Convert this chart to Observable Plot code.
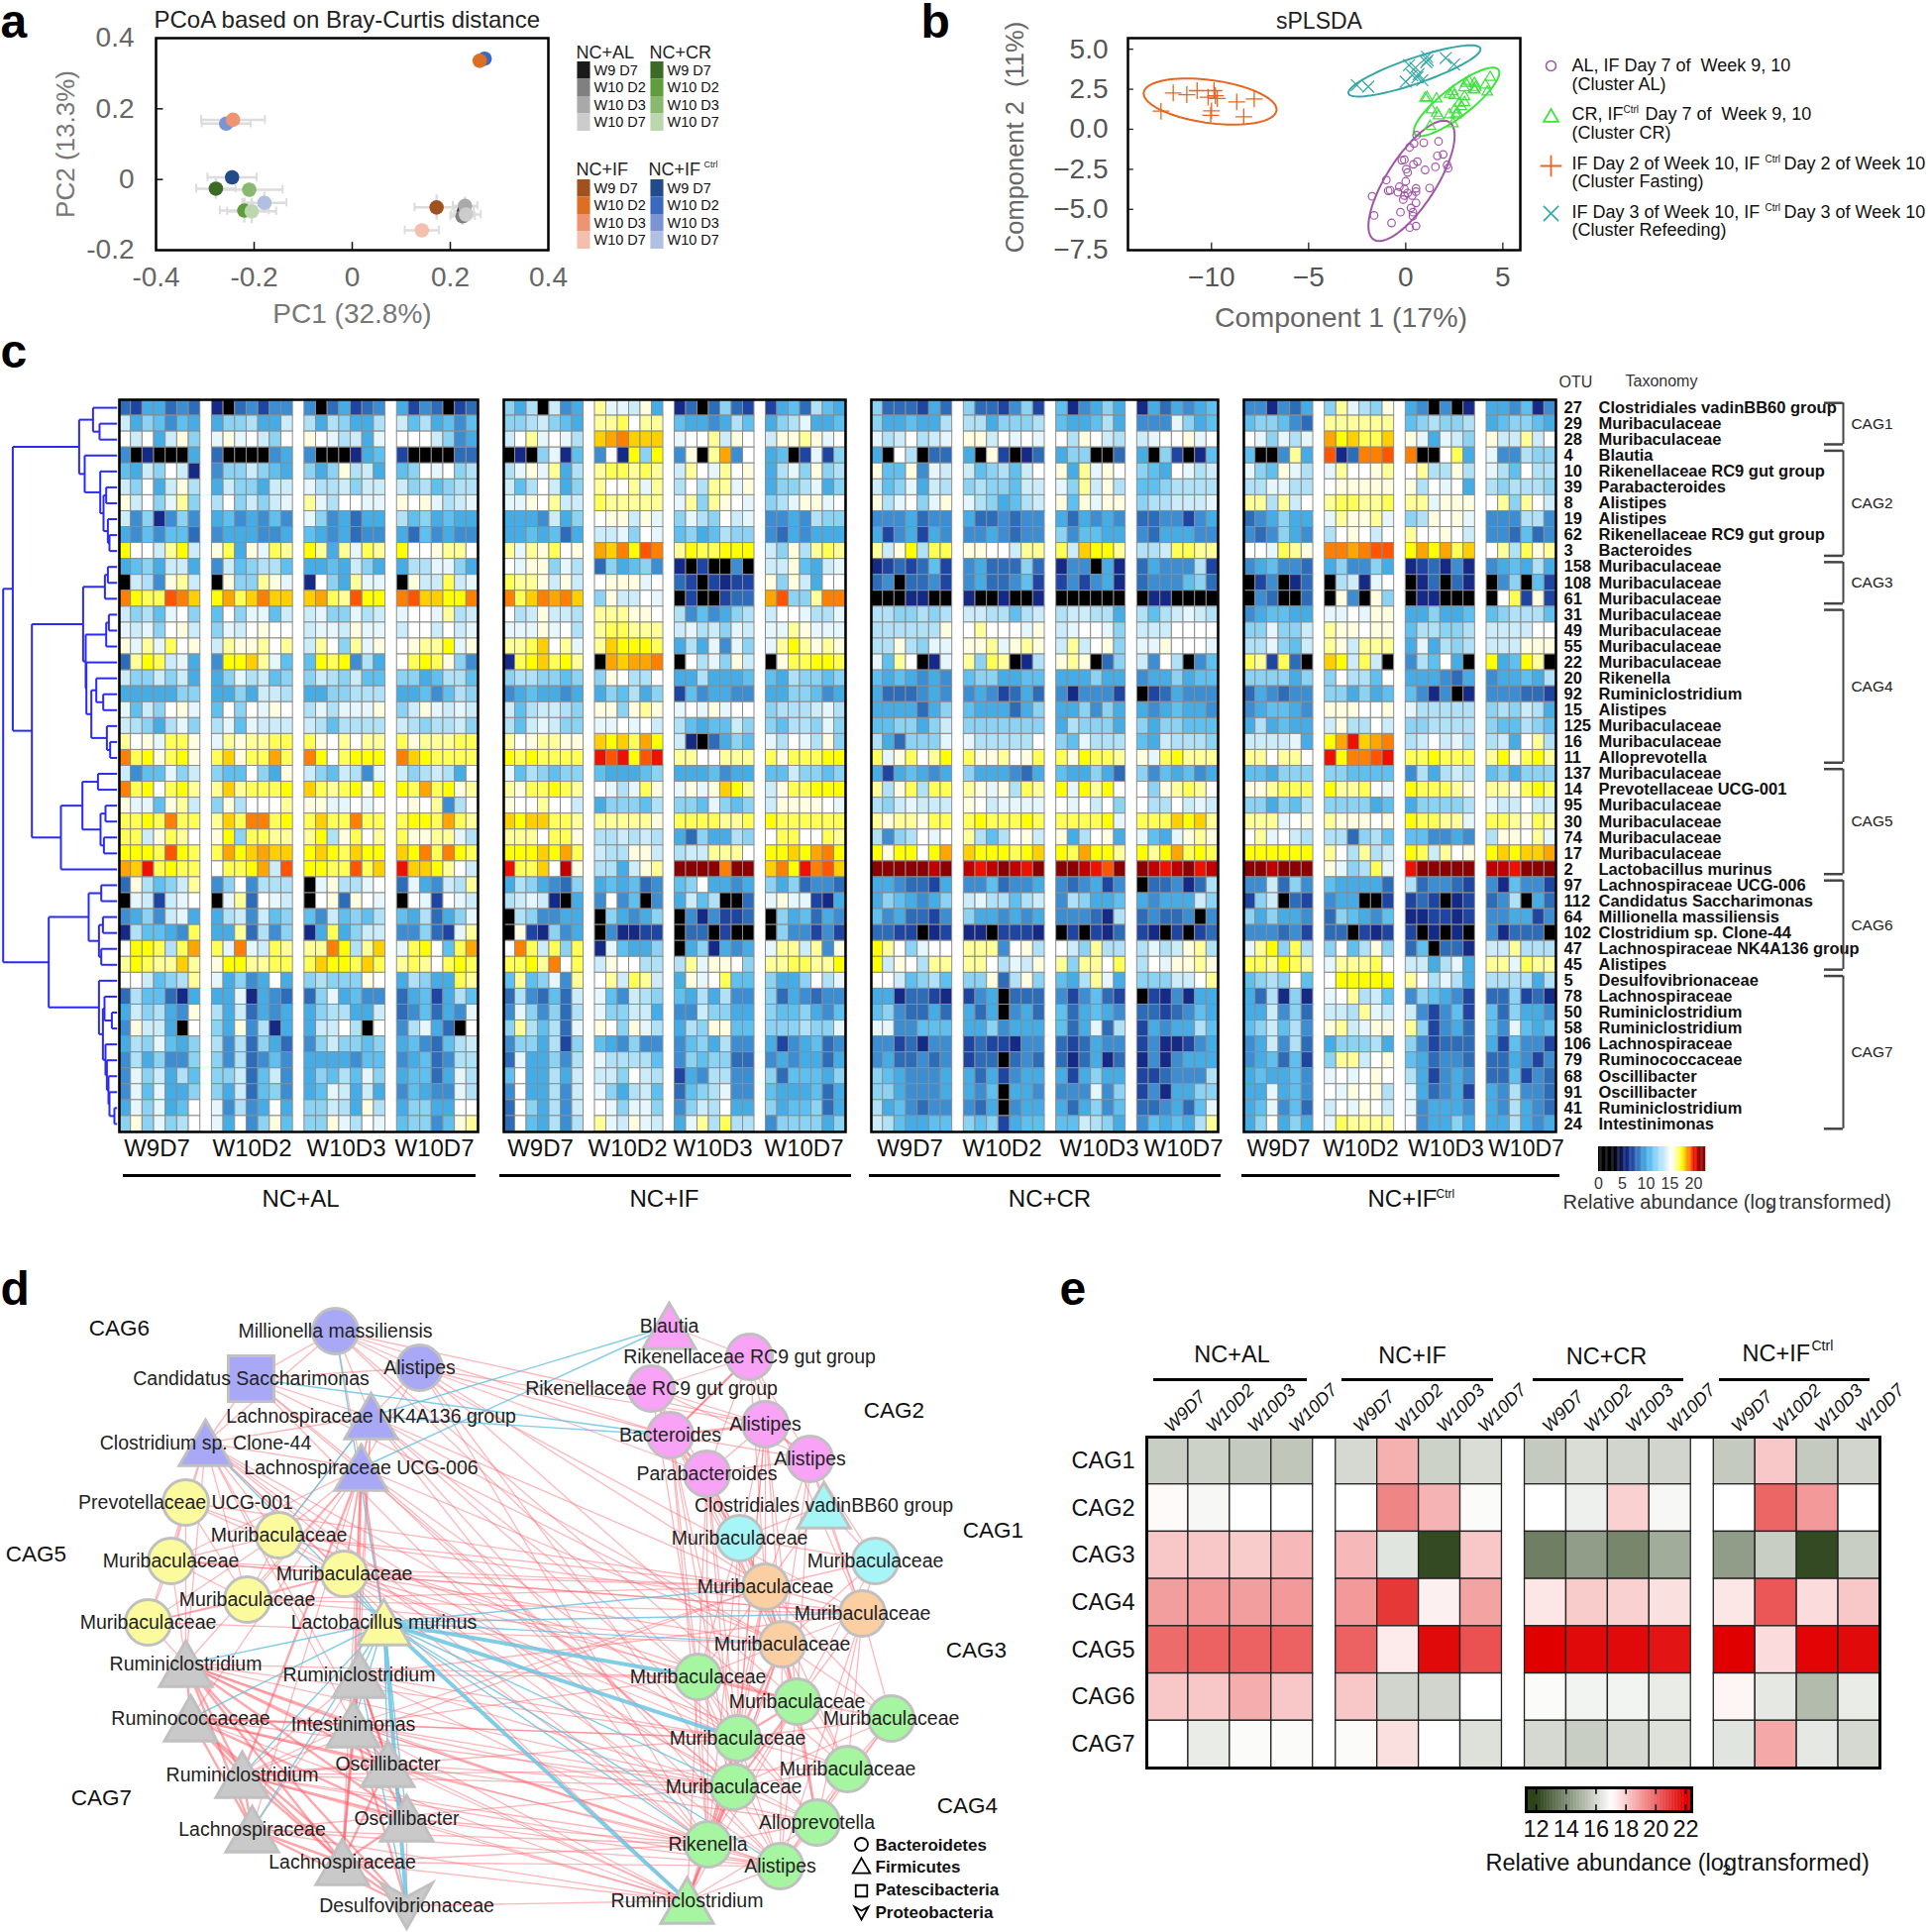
<!DOCTYPE html>
<html><head><meta charset="utf-8">
<style>html,body{margin:0;padding:0;background:#fff;overflow:hidden}#page{position:relative;width:1946px;height:1950px}svg{position:absolute;overflow:visible;background:transparent}</style>
<script src="https://cdn.jsdelivr.net/npm/d3@7"></script>
<script src="https://cdn.jsdelivr.net/npm/@observablehq/plot@0.6"></script>
</head><body><div id="page"></div>
<script>
// ---------- DATA ----------
const sampleNames=["W9 D7","W10 D2","W10 D3","W10 D7"];
const heatGroups=["W9D7","W10D2","W10D3","W10D7"];
const dietNames=["NC+AL","NC+IF","NC+CR","NC+IFCtrl"];
const colorsAL=["#1a1a1a","#808080","#a9a9a9","#cccccc"];
const colorsCR=["#3b6b25","#5e9c3c","#8ab870","#bcd6ae"];
const colorsIF=["#a0521e","#dd6e22","#ef9470","#f4c0ae"];
const colorsCt=["#234a8a","#3a69bd","#7a94d4","#b0bfe2"];
// panel a: PCoA
const pcoaId =["AL0","AL1","AL2","AL3","CR0","CR2","Ct3","CR1","CR3","IF0","IF3","Ct2","IF2","Ct0","Ct1","IF1"];
const pcoaX  =[.228,.225,.23,.232,-.278,-.21,-.179,-.22,-.205,.172,.142,-.257,-.243,-.245,.27,.26];
const pcoaY  =[-.09,-.104,-.075,-.099,-.026,-.029,-.066,-.088,-.09,-.079,-.144,.158,.169,.006,.342,.336];
const pcoaXe =[.02,.025,.025,.03,.04,.068,.045,.05,.05,.045,.035,.05,.065,.05,.006,.006];
const pcoaYe =[.02,.025,.025,.025,.03,.02,.03,.035,.035,.035,.012,.012,.015,.02,.015,.012];
const pcoaFill={AL:colorsAL,CR:colorsCR,IF:colorsIF,Ct:colorsCt};
// panel b: sPLSDA
const fastX=[-11.97,-11.27,-10.74,-10.17,-9.87,-9.8,-9.7,-8.7,-7.8,-12.6,-10,-10.04,-8.34];
const fastY=[2.27,2.16,2.41,2,2.41,2.1,1.92,1.71,1.89,1.13,1.15,.87,.78];
const refeedX=[-2.52,-1.93,0,.17,.5,.33,.66,.86,1.10,1.13,1.06,2.06,2.49,.6];
const refeedY=[2.76,2.66,2.97,4,3.84,3.38,3.44,3.07,4.52,4.31,4.19,4.45,4.04,3.24];
const crX=[4.35,3.26,3.1,3.54,3.0,3.6,4.1,4.2,3.56,3.5,2.43,2.26,2.5,3.03,1.1,1.59,1,2.76,3.03,1.33,1.6,1.69,2.26,2.59,2.52,2.43,1.26,2.86,2.66];
const crY=[3.24,3.0,2.87,2.87,2.6,2.62,2.76,2.33,2.45,2.49,2.35,2.19,2.1,2.04,1.98,1.9,1.94,1.63,1.67,1.22,1.01,.85,.91,.91,1.22,.35,.19,1.42,1.01];
const alX=[.56,.93,.43,1.69,.2,1.93,1.63,-.07,-.2,.6,.4,.03,1.53,2.13,2.19,1,.1,-1,0,-.33,-.8,-.9,-.07,.53,1.23,-.4,-.07,.33,.1,.53,-.13,.53,.27,-.27,.37,-1.63,-1.73,-.73,.2,.53,.37];
const alY=[-.37,-.84,-.89,-.76,-1.13,-1.57,-1.66,-1.9,-1.94,-2.02,-2.19,-2.49,-2.35,-2.23,-2.43,-2.54,-2.7,-3.17,-3.25,-3.59,-3.81,-3.84,-3.73,-3.69,-3.67,-3.94,-4.14,-4.14,-3.98,-3.9,-4.39,-4.6,-4.91,-5.18,-5.42,-5.38,-4.19,-5.85,-6.14,-6.04,-5.18];
const ellipseNames=["fasting","refeeding","cr","al"];
const ellipseCx=[-10.07,.45,2.62,.3], ellipseCy=[1.73,3.64,1.71,-3.22];
const ellipseAx=[3.42,3.4,2.2,2.22], ellipseAy=[1.44,1.6,2.14,3.76];
const ellipseCorr=[-.35,.85,.85,.75];
// panel c: OTU table
const otuIds=[27,29,28,4,10,39,8,19,62,3,158,108,61,31,49,55,22,20,92,15,125,16,11,137,14,95,30,74,17,2,97,112,64,102,47,45,5,78,50,58,106,79,68,91,41,24];
const otuTaxa=["Clostridiales vadinBB60 group","Muribaculaceae","Muribaculaceae","Blautia","Rikenellaceae RC9 gut group","Parabacteroides","Alistipes","Alistipes","Rikenellaceae RC9 gut group","Bacteroides","Muribaculaceae","Muribaculaceae","Muribaculaceae","Muribaculaceae","Muribaculaceae","Muribaculaceae","Muribaculaceae","Rikenella","Ruminiclostridium","Alistipes","Muribaculaceae","Muribaculaceae","Alloprevotella","Muribaculaceae","Prevotellaceae UCG-001","Muribaculaceae","Muribaculaceae","Muribaculaceae","Muribaculaceae","Lactobacillus murinus","Lachnospiraceae UCG-006","Candidatus Saccharimonas","Millionella massiliensis","Clostridium sp. Clone-44","Lachnospiraceae NK4A136 group","Alistipes","Desulfovibrionaceae","Lachnospiraceae","Ruminiclostridium","Ruminiclostridium","Lachnospiraceae","Ruminococcaceae","Oscillibacter","Oscillibacter","Ruminiclostridium","Intestinimonas"];
// abundance classes; each char indexes heatLog2
const heatCodes="0123456789abcdefghijklm";
const heatLog2=[2,6,7,8,9,10,11,12,13,14,14.5,15,15.7,16.4,17,17.5,18,18.5,19,19.5,20,20.8,21.5];
const heatAL=["3255343 1034244 4035234 5243023","9576465 5778559 8587558 9685646","b9b59c7 acab97b cba895a bbb9745","4010005 3000045 4000156 2000033","6597b91 4779765 757c895 67bab78","97b59c8 5977599 a889799 9786788","c9b7ad7 8b7979a da8bbaa cbca89a","9471474 5645464 a745355 8675655","5464663 4555445 6545344 5364544","fbb9df9 ce5caed fd5daed fbbcddb","5675995 4967886 5565975 588aa75","0984cd9 0c77dca 1b75daa 0c99e9a","ifeejig fhegigg ghedjff ijggffi","9786ab7 6b7aa69 9a77a89 abbad89","a9a7bc9 7a9bcbb 9aa9caa 9bb9b9a","cadaebc 9dccdbd 9db7dac bcddfac","3dfe9a5 4ffgda6 6fef485 befec74","9779795 57a8967 7987966 7756886","5555577 5575998 5577888 5564687","a697bca 6b7bacb 8a8aaac 79ca9a9","98758a7 8a6a999 9868888 9878897","dbcaeec adcddee ecbdbdd ecdddee","iefcefc egceehe ifbefff igfeeee","9466a79 766b75c 976984a 978985b","iefbefd dgdeeef gedefcf fehefcd","caa6cd9 7c8bbbd ccaabab bcbd48b","eefeiee dgeiief egeeiee effehed","ee9cedb cf7eedd df8cebd eccdda8","fffejfe ehfghgg fgfegff gfieife","hgkefee beefh9j ffeejeg kggfdb9","3c8679d 47b4888 0ac88ab 3a5498d","0a929ab 0ad3ba9 0bc3cba 0ba2ba9","45749a5 5894967 6496768 658357a","186654e 55d3847 15e5799 44732ad","bffe8eh eaia9ed ddif8dg aefb6eh","dfeddgd cffddee egffege dedbefe","bb9678d a5745b5 78777cb 58755ed","3866315 55a1543 37a5644 3562586","597854c 8593545 5788559 346354a","4c9950b 75c4815 599b80b 48a530b","587a657 8483753 4797767 5643689","4857447 7483464 5555466 4563488","4a79586 7793694 57686a7 56635a8","4a6a557 7593674 56a9595 46544a8","5a7a56b a4845b5 77985c8 57755bb","7c7a78b a5b47c6 77ca8ba 67746cd"];
const heatIF=["7580945 daa9c5 1303732 2563865","7789765 ddebdd 6554586 578a556","9bdaba8 ghiggg abbd9cb 9ccdcab","0107a16 4b1f7f 4c0dh4b 5602a27","8acad58 deeded 9dbadbc 58a7c78","968b957 dbbdad 8b8ddac 5778a57","aacbd99 eddddd ad7dcba 78accab","5554957 bcc9ca 7a87b9a 4454877","5565635 99a7ba 6756877 4354555","dadcebc hgifji dfeefff 97c8ded","bacc7a8 375674 1020040 99c659a","eddc9c9 bcccab 3202122 c7c95bb","iegihig 7c99ba 0200233 hj77dii","b89c998 dddccb 8464578 9bba88a","aaacab8 deeddd 9a897a9 aadcaaa","ddegbda dgfffe 585a4a7 adfdcdc","1efgefd 0hghhi 0b8a7c9 0ceeffe","7887767 7cb88b 5585556 6587767","4565545 576857 2645544 5577645","9689987 cc7cdc abacabb 78889a8","869a977 aabab9 8656697 76887a7","dbcddcc gfgehf 9103576 a8ba8c7","fefeeee kjkfjk ddbbddd eceeeff","a687677 655567 5556455 6697767","dceefed ba8aec acacgfd 9ceefff","cbbdbb9 577768 776a767 9ccccba","gfggeed dddddc eeeedde feeeeee","dddbeec 889898 5375587 beebbed","fffgfhe 988cc9 899dddb ffgfhif","keegblc 8859cd mmmmimm gifkijg","5875437 565634 67b5545 7573443","89a9105 4b4604 5968003 acaa215","0874455 075457 0414223 0756354","0c21745 041122 0330200 0744242","bie9e7e 1a6557 0571545 add9d4c","eefdibe 9cbb88 8daccb7 ddeeddf","6d67a4d bd9ed9 5cabe66 7557b8a","3843639 a64987 6585844 7354344","4a74738 a77995 4497755 7667546","7d8683a cb7ca8 587cc66 777877a","4775827 654744 4675844 5245634","3a55748 a88886 4767733 4545535","6b55859 997b98 2548844 7366657","4b55849 a75896 3678a44 6555635","3b75849 ba7aa7 4798b55 7566735","3b65848 da9ca9 5ad8e88 4777757"];
const heatCR=["7333253 7332472 614575 1535456","7556558 8857778 655685 444a756","a89b89a cc9baba b8cb98 9abbcab","50b8033 50c2013 577003 5072016","c66c4a9 967869b c5dacb 765ba89","967a598 7877699 a7d9c8 6678888","c8ab7ac a875689 c6cacc 788999a","4445344 5334344 535454 3344245","5245254 4454344 746655 4355544","d9cf8ee ccbb9dd e9gffd 889eedd","1232362 4533373 144051 3544482","3403342 4533462 242451 3444673","0001100 1001001 000000 0110000","8877878 9988689 899885 8689a98","888888c bdbbbac 9abba7 999bbbb","88c87aa ccdacdc 9d9bc7 aacbbba","a6db01a d7ed018 cdc037 94b8046","6565454 6775566 555755 4557566","5333454 4542353 414442 0235444","5555357 6555357 557475 5456554","6677579 7777777 587775 7577666","853777a a88888b 76a888 6598887","eacebdf eccdbce ecfeed caefddd","5256545 7555435 655753 7465645","d8ce8ee dcac8ed fafdfb b7cdedb","879a999 cb9aaaa bab9b7 b88b9a9","dcddcee efeeefe eeeefa eeegfgd","8478bab d868bc9 c58bc5 a65acdc","fcffbfh gfffefg fehffd fdfhefe","mmmmmlm lklmlkm mmlkjm mlklmkl","5543325 4463445 434524 0334138","5765457 9a88689 487556 5455597","6453324 7554545 444318 3433404","3322012 1102221 020213 2102023","fdb7abb ddd4bc8 b97d88 8a89cd8","f9cb8dd ddb8a9c d7ddbe 8baccdc","bb96786 77c38c7 658da5 77799bd","5513321 2450333 424632 0214155","6743353 5350453 635654 3323465","aa44666 5574555 635a38 2545586","4423144 2322144 323544 2411245","4533434 2330343 313513 1414555","7654445 5352455 525755 2234448","7754445 5460554 444a47 2415577","8564344 4350455 535746 334536a","9865566 7672566 669875 465658d"];
const heatCt=["441435 7da87c 540401 554614","677643 dddddd 678778 567765","ba7a8a hfgeeg ca5a97 c99d9b","6004d5 j13iij i00be5 a44877","a76ca8 adbbcd bd88c8 a86b88","88aa88 bccccc c8bab5 878887","dd8d9b deedde ddaccc bd7db9","345755 adccda 78cbca 444884","434754 8bcb9b dbbcb9 443634","bbaedc iihijj fhfheg bd8ecd","456443 574475 123141 456585","024013 0891ab 013031 047062","043003 0c40c7 011000 0be2c2","456655 aabacc 557556 678886","77a779 dccbcc 688778 9999bb","88a769 dc9ddd 5a5878 999ccc","ed2e30 gf9e90 486b50 f56fd0","777757 7b886b 555435 455658","354344 775756 641401 444332","456654 cccbbc a88888 787985","585655 9c88b9 778888 766876","9999a5 fhkghi 89b9a8 895bd8","ddbddb kfiijk eefeee dfcefd","665777 776666 485898 675777","ccdeee fddeba feeedc ddcefe","775768 777756 577778 a99b99","dddabc dcccbc feedda eedced","bdab98 883786 664454 8ccbda","ffffff db8d89 fe9dbc fgfggh","mmlmmm ca78ea kmmmmm llkmmm","449374 655553 834432 416442","279032 455002 232012 348053","757554 376546 112212 445524","444342 330212 201010 413330","adf7e8 7b68c7 360331 99d888","eedfed adddeb 9958a5 ddaedd","6787b6 bfffff db8a85 888858","538171 abd896 476542 337231","559473 998da9 942462 637554","679684 cd9acc d72453 64a656","459483 577785 742333 526442","456362 7dd9bc 653443 335424","565564 ababcb 852454 336243","55a564 bacbc8 a53452 548443","56a463 9bacb9 a45554 548543","57b575 aedddd b45575 558545"];
// dendrogram: [distance, child, child]; integers are row numbers
const dendrogram=[115,
 [105.3,
  [38.3,[24.3,0,[17.7,1,2]],[32.7,3,[17,4,[13.7,[11,5,6],[9.3,7,[7.7,8,9]]]]]],
  [86,
   [34.3,[12.3,[9.3,10,11],12],[31.7,[11,[8.3,13,14],15],[31,16,[26,[21,17,[14,18,19]],[10.3,20,[7,21,22]]]]]],
   [56.7,[35,[19.3,23,24],[16.7,[11.7,25,26],[13.3,27,28]]],29]]],
 [69,
  [28.7,[16,30,31],[18.3,[14.3,32,33],[16,34,35]]],
  [18.3,36,[14.3,[12.7,37,[5.3,38,39]],[11.7,40,[10.3,41,[8.7,42,[7.7,43,[2.7,44,45]]]]]]]]];
const cagNames=["CAG1","CAG2","CAG3","CAG4","CAG5","CAG6","CAG7"];
const cagFirstRow=[0,3,10,13,23,30,36], cagLastRow=[2,9,12,22,29,35,45];
// panel d: co-abundance network
const nodeNames=["Millionella massiliensis","Candidatus Saccharimonas","Alistipes","Lachnospiraceae NK4A136 group","Clostridium sp. Clone-44","Lachnospiraceae UCG-006","Prevotellaceae UCG-001","Muribaculaceae","Muribaculaceae","Muribaculaceae","Muribaculaceae","Muribaculaceae","Lactobacillus murinus","Ruminiclostridium","Ruminiclostridium","Ruminococcaceae","Intestinimonas","Ruminiclostridium","Oscillibacter","Lachnospiraceae","Oscillibacter","Lachnospiraceae","Desulfovibrionaceae","Blautia","Rikenellaceae RC9 gut group","Rikenellaceae RC9 gut group","Alistipes","Bacteroides","Alistipes","Parabacteroides","Clostridiales vadinBB60 group","Muribaculaceae","Muribaculaceae","Muribaculaceae","Muribaculaceae","Muribaculaceae","Muribaculaceae","Muribaculaceae","Muribaculaceae","Muribaculaceae","Muribaculaceae","Muribaculaceae","Alloprevotella","Rikenella","Alistipes","Ruminiclostridium"];
const nodeX=[338,253,423,374,207,364,187,281,172,347,249,149,387,187,362,192,356,244,391,254,410,345,410,675,756,657,772,676,817,713,831,746,883,772,870,789,704,804,899,744,855,740,824,714,787,693];
const nodeY=[1343,1391,1380,1429,1456,1481,1516,1549,1575,1588,1614,1637,1637,1679,1690,1734,1740,1791,1780,1846,1835,1879,1923,1338,1369,1401,1437,1448,1472,1487,1519,1552,1575,1601,1628,1659,1692,1717,1734,1754,1785,1803,1839,1861,1883,1918];
const nodeCag=[6,6,6,6,6,6,5,5,5,5,5,5,5,7,7,7,7,7,7,7,7,7,7,2,2,2,2,2,2,2,1,1,1,3,3,3,4,4,4,4,4,4,4,4,4,4];
const nodeShape="cscttt"+"cccccct"+"tttttttttv"+"tcccccc"+"tcc"+"ccc"+"ccccccccct";
const cagFill={1:"#a6f6f7",2:"#f9a3f7",3:"#fbcfa2",4:"#a6f5a0",5:"#fbfb9e",6:"#a8a8f6",7:"#c9c9c9"};
const edgesHeavy="13-15 13-17 13-19 13-21 13-16 13-18 13-20 15-17 15-19 15-21 15-16 15-18 15-20 17-19 17-21 17-18 17-20 16-21 16-18 16-20 14-16 14-18 14-20 14-21 18-20 18-21 20-21 13-22 15-22 19-22 21-22 16-22 19-21 5-12 5-16 5-17 33-35 36-37 37-39 39-41 39-43 41-43 43-45 41-45 24-27 25-27 26-27 27-29 26-28 35-37 35-39 37-41 37-42";
const edgesLight="0-1 0-2 0-3 0-4 0-5 1-2 1-3 1-4 1-5 2-3 2-5 3-4 3-5 4-5 6-7 6-8 6-9 6-10 6-11 7-8 7-9 7-10 7-11 8-9 8-10 8-11 9-10 9-11 10-11 4-6 4-8 4-7 4-9 4-10 5-7 5-9 5-10 5-8 3-7 3-9 4-13 5-13 5-15 5-19 5-21 5-14 3-16 3-14 4-16 4-18 6-13 8-13 11-13 9-33 9-34 9-35 9-39 9-43 7-33 7-34 7-36 8-33 8-34 10-34 10-35 6-33 11-35 0-26 0-27 0-34 0-36 0-40 2-27 2-26 2-29 2-33 2-37 2-41 2-43 3-33 3-35 3-36 3-39 3-43 3-44 5-35 5-39 5-41 5-44 1-35 1-43 1-41 4-39 4-41 4-43 4-44 4-45 13-36 13-39 13-41 13-43 13-45 15-39 15-41 15-43 15-45 16-36 16-41 16-43 16-45 17-41 17-43 17-45 17-44 19-43 19-45 19-44 21-43 21-45 14-36 14-39 14-41 14-43 18-39 18-41 18-45 20-43 20-45 22-45 20-44 16-39 17-33 16-33 14-34 10-33 9-37 9-40 9-42 7-37 16-44 17-40 16-42 18-44 18-42 21-44 19-41 14-17 14-19 17-16 20-22 23-24 23-25 24-25 24-26 24-27 24-28 24-29 25-26 25-28 25-29 26-29 27-28 28-29 25-33 25-35 25-36 27-31 27-33 27-35 27-36 27-39 29-31 29-33 29-35 29-36 29-37 29-39 26-31 26-33 26-35 26-37 26-39 28-30 28-32 28-33 28-34 28-35 28-37 24-33 24-34 29-41 29-43 27-41 27-43 26-41 30-31 30-32 31-32 30-33 30-34 31-33 31-35 32-33 32-34 32-35 32-37 31-36 31-39 31-43 33-34 33-36 33-37 33-38 33-39 33-40 33-41 33-43 34-35 34-37 34-38 34-40 34-42 34-44 35-36 35-38 35-40 35-41 35-42 35-43 35-44 35-45 36-39 36-41 36-43 36-44 36-42 36-45 37-38 37-40 37-43 37-44 37-45 38-40 38-42 38-44 39-40 39-42 39-44 39-45 40-41 40-42 40-44 41-42 41-44 42-43 42-44 42-45 43-44 44-45 38-41 38-39";
const edgesBlueThick="12-36 12-39 12-45 12-22";
const edgesBlueThin="0-12 1-27 3-27 3-23 5-23 4-12 7-12 9-12 7-3 12-33 12-34 12-35 12-13 12-15 12-14 12-16 12-17 12-19 12-18 12-20 12-41 12-43 14-22 12-44";
const phylumNames=["Bacteroidetes","Firmicutes","Patescibacteria","Proteobacteria"];
// panel e: mean abundance per CAG (log2), rows CAG1..7, columns W9D7..W10D7
const cagAL=[[15.7,15.8,15.6,15.5],[17.1,16.8,17,17],[18.1,18.1,18,18.4],[18.9,19,18.9,19],[19.9,20.1,20.1,20.1],[18.1,18.1,18.6,18.1],[17,16.5,16.9,16.9]];
const cagIF=[[16,18.55,15.8,16.1],[17,19.4,18.5,16.9],[18.4,16.3,12.2,18.1],[19,20.9,17.3,18.8],[20.1,17.4,21.8,20.4],[18.1,15.9,15.9,17],[16.9,17.6,17,16.2]];
const cagCR=[[15.6,16.1,15.9,15.9],[17,16.6,17.9,16.8],[13.6,14.4,13.8,14.8],[17.5,18,17.9,17.6],[22,21.8,21.8,21.6],[16.9,16.7,16.7,16.5],[16,15.7,16,16.2]];
const cagCt=[[15.6,18.1,15.6,15.9],[17,20,19,17],[14.4,15.7,12.2,15.7],[17.5,20.3,17.7,18.1],[22,17.7,21.9,21.8],[17.2,16.4,15.2,16.5],[16.3,18.7,16.4,16]];

// ---------- HELPERS ----------
const page=document.getElementById("page");
const FONT="'Liberation Sans',Arial,sans-serif";
function place(opts,x0,y0,x1,y1,pad=3){
  const el=Plot.plot({width:x1-x0+2*pad,height:y1-y0+2*pad,marginLeft:pad,marginRight:pad,marginTop:pad,marginBottom:pad,...opts});
  el.style.left=(x0-pad)+"px";el.style.top=(y0-pad)+"px";el.style.fontFamily=FONT;el.style.maxWidth="none";el.style.height=(y1-y0+2*pad)+"px";
  page.appendChild(el);return el;
}
const heatColor={type:"linear",interpolate:"rgb",
  domain:[0,3,5,6,7,8,9,10,11,12,13,14,14.5,15,15.7,16.4,17,17.5,18,18.5,19,19.5,20,20.8,21.5,23],
  range:["#000","#000","#0c1860","#152a87","#1f45a3","#2d6cb9","#3c8dd1","#45ace6","#5fc0ef","#8bd2f3","#b1e1f7","#cdecfa","#e6f6fd","#fff","#fffde0","#ffff99","#ffff55","#ffff00","#ffcf00","#ffa500","#ff7f00","#ff5500","#ee1100","#c00000","#8b0000","#8b0000"]};
const cagColor={type:"linear",interpolate:"rgb",domain:[11,12,17,22,23],range:["#2c421a","#2c421a","#ffffff","#e00000","#e00000"]};

// ---------- PANEL a ----------
const pcoaRows=pcoaId.map((id,i)=>({x:pcoaX[i],y:pcoaY[i],xe:pcoaXe[i],ye:pcoaYe[i],fill:pcoaFill[id.slice(0,2)][+id[2]]}));
const fmtA=d=>d===0?"0":d.toFixed(1);
place({x:{domain:[-.4,.4],axis:null},y:{domain:[-.2,.4],axis:null},marks:[
  Plot.ruleY(pcoaRows,{x1:d=>d.x-d.xe,x2:d=>d.x+d.xe,y:"y",stroke:"#dcdcdc",strokeWidth:2.5}),
  Plot.ruleX(pcoaRows,{y1:d=>d.y-d.ye,y2:d=>d.y+d.ye,x:"x",stroke:"#dcdcdc",strokeWidth:2.5}),
  Plot.ruleX(pcoaRows,{y1:d=>d.y-.012,y2:d=>d.y+.012,x:d=>d.x-d.xe,stroke:"#dcdcdc",strokeWidth:2}),
  Plot.ruleX(pcoaRows,{y1:d=>d.y-.012,y2:d=>d.y+.012,x:d=>d.x+d.xe,stroke:"#dcdcdc",strokeWidth:2}),
  Plot.dot(pcoaRows,{x:"x",y:"y",fill:"fill",r:7.3}),
  Plot.ruleX([-.2,0,.2],{y1:-.2,y2:-.178,stroke:"#111",strokeWidth:1.5}),
  Plot.ruleY([0,.2],{x1:-.4,x2:-.385,stroke:"#111",strokeWidth:1.5}),
  Plot.frame({stroke:"#000",strokeWidth:2.5}),
  Plot.axisX({ticks:[-.4,-.2,0,.2,.4],tickFormat:fmtA,tickSize:0,tickPadding:17,fontSize:28,fill:"#666",label:null}),
  Plot.axisY({ticks:[-.2,0,.2,.4],tickFormat:fmtA,tickSize:0,tickPadding:22,fontSize:28,fill:"#666",label:null})
]},157,38,553,252);
function swatches(colors,x0,y0){
  place({x:{type:"band",domain:["s"],axis:null,round:false},y:{type:"band",domain:sampleNames,axis:null,round:false,padding:0},marks:[
    Plot.cell(sampleNames,{x:()=>"s",y:d=>d,fill:(d,i)=>colors[i]}),
    Plot.text(sampleNames,{x:()=>"s",y:d=>d,text:d=>d,dx:10,textAnchor:"start",fontSize:14.5,fill:"#111"})
  ]},x0,y0,x0+16,y0+70,0);
}
swatches(colorsAL,581,62);swatches(colorsCR,655,62);swatches(colorsIF,581,181);swatches(colorsCt,655,181);

// ---------- PANEL b ----------
const tt=d3.range(0,6.35,.08).concat(0);
const ellipsePts=ellipseNames.flatMap((n,i)=>{const d=Math.acos(ellipseCorr[i]);return tt.map(t=>({n,x:ellipseCx[i]+ellipseAx[i]*Math.cos(t),y:ellipseCy[i]+ellipseAy[i]*Math.cos(t-d)}));});
const zip=(X,Y)=>X.map((x,i)=>({x,y:Y[i]}));
const C_PUR="#a055a8",C_GRN="#3ce43c",C_ORG="#e8651f",C_TEAL="#35a7a5";
place({x:{domain:[-14.3,5.9],axis:null},y:{domain:[-7.55,5.69],axis:null},
 color:{domain:ellipseNames,range:[C_ORG,C_TEAL,C_GRN,C_PUR]},marks:[
  Plot.line(ellipsePts,{x:"x",y:"y",z:"n",stroke:"n",strokeWidth:2}),
  Plot.dot(zip(alX,alY),{x:"x",y:"y",r:3.8,stroke:C_PUR,strokeWidth:1.2}),
  Plot.dot(zip(crX,crY),{x:"x",y:"y",r:4,symbol:"triangle",stroke:C_GRN,strokeWidth:1.2}),
  Plot.dot(zip(fastX,fastY),{x:"x",y:"y",r:5.5,symbol:"plus",stroke:C_ORG,strokeWidth:1.3}),
  Plot.dot(zip(refeedX,refeedY),{x:"x",y:"y",r:5.5,symbol:"times",stroke:C_TEAL,strokeWidth:1.2}),
  Plot.ruleX([-10,-5,0,5],{y1:-7.55,y2:-7.1,stroke:"#222",strokeWidth:1.3}),
  Plot.ruleY([-5,-2.5,0,2.5,5],{x1:-14.3,x2:-14,stroke:"#222",strokeWidth:1.3}),
  Plot.frame({stroke:"#000",strokeWidth:2.5}),
  Plot.axisX({ticks:[-10,-5,0,5],tickFormat:d=>String(d).replace("-","\u2212"),tickSize:0,tickPadding:17,fontSize:28,fill:"#555",label:null}),
  Plot.axisY({ticks:[-7.5,-5,-2.5,0,2.5,5],tickFormat:d=>d.toFixed(1).replace("-","\u2212"),tickSize:0,tickPadding:20,fontSize:28,fill:"#555",label:null})
]},1138,38,1534,252);

// ---------- PANEL c ----------
function heatBlock(rows,x0,x1){
  const sizes=rows[0].split(" ").map(s=>s.length);
  const cols=[];sizes.forEach((n,g)=>{d3.range(n).forEach(c=>cols.push(g+":"+c));if(g<3)cols.push("gap"+g);});
  const cells=rows.flatMap((r,row)=>r.split(" ").flatMap((s,g)=>[...s].slice(0,sizes[g]).map((ch,c)=>({col:g+":"+c,row,v:heatLog2[heatCodes.indexOf(ch)]}))));
  place({x:{type:"band",domain:cols,padding:0,round:false,axis:null},y:{type:"band",domain:d3.range(46),padding:0,round:false,axis:null},color:heatColor,marks:[
    Plot.cell(cells,{x:"col",y:"row",fill:"v",stroke:"#8c8c8c",strokeWidth:1}),
    Plot.frame({stroke:"#000",strokeWidth:2.5})
  ]},x0,403,x1,1142);
}
heatBlock(heatAL,120,482);heatBlock(heatIF,508,853);heatBlock(heatCR,879,1229);heatBlock(heatCt,1255,1570);
// dendrogram
const segs=[];
(function layout(n){
  if(typeof n==="number")return{d:0,y:n+.5};
  const a=layout(n[1]),b=layout(n[2]),d=n[0],y=(a.y+b.y)/2;
  segs.push({x1:a.d,y1:a.y,x2:d,y2:a.y},{x1:b.d,y1:b.y,x2:d,y2:b.y},{x1:d,y1:a.y,x2:d,y2:b.y});
  return{d,y};
})(dendrogram);
const rowY={domain:[46,0],axis:null};
place({x:{domain:[117.7,0],axis:null},y:rowY,marks:[
  Plot.link(segs,{x1:"x1",y1:"y1",x2:"x2",y2:"y2",stroke:"#2a2af0",strokeWidth:2})
]},0,403,117.7,1142,1);
// row labels
const rowIdx=d3.range(46);
place({x:{domain:[0,1],axis:null},y:rowY,marks:[
  Plot.text(rowIdx,{frameAnchor:"left",y:d=>d+.5,text:d=>otuIds[d],fontSize:16.5,fontWeight:"bold",textAnchor:"start",fontFamily:"'Liberation Sans Narrow','Liberation Sans'",fill:"#111"}),
  Plot.text(rowIdx,{frameAnchor:"left",y:d=>d+.5,text:d=>otuTaxa[d],dx:35,fontSize:16.5,fontWeight:"bold",textAnchor:"start",fontFamily:"'Liberation Sans Narrow','Liberation Sans'",fill:"#111"})
]},1578,403,1835,1142,0);
// CAG brackets
place({x:{domain:[0,1],axis:null},y:rowY,marks:[
  Plot.ruleX(cagNames,{x:()=>1,y1:(d,i)=>cagFirstRow[i]+.2,y2:(d,i)=>cagLastRow[i]+.8,stroke:"#444",strokeWidth:2}),
  Plot.ruleY(cagFirstRow,{y:d=>d+.2,x1:0,x2:1,stroke:"#444",strokeWidth:2.5}),
  Plot.ruleY(cagLastRow,{y:d=>d+.8,x1:0,x2:1,stroke:"#444",strokeWidth:2.5}),
  Plot.text(cagNames,{x:()=>1,y:(d,i)=>(cagFirstRow[i]+cagLastRow[i]+1)/2,text:d=>d,dx:29,fontSize:15.5,fill:"#222"})
]},1841,403,1860,1142,0);
// color legend c
const barC=d3.range(0,22.5,.25);
place({x:{domain:[0,22.5],axis:null},y:{domain:[0,1],axis:null},color:heatColor,marks:[
  Plot.rect(barC,{x1:d=>d,x2:d=>d+.3,y1:()=>0,y2:()=>1,fill:d=>d}),
  Plot.axisX({ticks:[0,5,10,15,20],tickSize:0,tickPadding:6,fontSize:16,fill:"#333",label:null})
]},1613,1157,1721,1182,0);

// ---------- PANEL d ----------
const nodes=nodeNames.map((name,i)=>({name,x:nodeX[i],y:nodeY[i],cag:nodeCag[i],shape:nodeShape[i]}));
const parseEdges=s=>s.split(" ").map(p=>{const[a,b]=p.split("-").map(Number);return{x1:nodeX[a],y1:nodeY[a],x2:nodeX[b],y2:nodeY[b]};});
const chevron={draw(c){c.moveTo(-26,-23);c.lineTo(0,-9);c.lineTo(26,-23);c.lineTo(0,23);c.closePath();}};
const nodeMark=(shape,o)=>Plot.dot(nodes.filter(n=>n.shape===shape),{x:"x",y:"y",fill:d=>cagFill[d.cag],stroke:"#c0c0c0",strokeWidth:3,...o});
const edgeMark=(s,stroke,w,op)=>Plot.link(parseEdges(s),{x1:"x1",y1:"y1",x2:"x2",y2:"y2",stroke,strokeWidth:w,strokeOpacity:op});
place({x:{domain:[0,1040],axis:null},y:{domain:[1950,1300],axis:null},marks:[
  edgeMark(edgesLight,"#fb6f7a",1.3,.5),
  edgeMark(edgesHeavy,"#fb5f6a",2.4,.55),
  edgeMark(edgesBlueThin,"#63bfe0",1.4,.8),
  edgeMark(edgesBlueThick,"#6cc4e2",4,.85),
  nodeMark("c",{r:23}),
  nodeMark("s",{r:26,symbol:"square"}),
  nodeMark("t",{r:19.7,symbol:"triangle",dy:7.5}),
  nodeMark("v",{r:26,symbol:chevron}),
  Plot.text(nodes,{x:"x",y:"y",text:"name",fontSize:19.5,fill:"#222"}),
  Plot.dot(phylumNames,{x:()=>869,y:(d,i)=>[1861,1885,1908,1930][i],symbol:(d,i)=>["circle","triangle","square",chevron][i]==chevron?"circle":["circle","triangle","square","circle"][i],r:6.5,stroke:"#000",strokeWidth:1.8,fill:"none",filter:(d,i)=>i<3}),
  Plot.dot(["v"],{x:()=>869,y:()=>1930,r:1,symbol:{draw(c){c.moveTo(-7,-6);c.lineTo(0,-2);c.lineTo(7,-6);c.lineTo(0,7);c.closePath();}},stroke:"#000",strokeWidth:1.8,fill:"none"}),
  Plot.text(phylumNames,{x:()=>883,y:(d,i)=>[1862,1884,1907,1930][i],text:d=>d,textAnchor:"start",fontSize:17,fontWeight:"bold",fill:"#111"})
]},0,1300,1040,1950,0);

// ---------- PANEL e ----------
const GAP=.55;
const eCells=[cagAL,cagIF,cagCR,cagCt].flatMap((m,g)=>m.flatMap((r,row)=>r.map((v,c)=>({x:g*(4+GAP)+c,row,v,g,c}))));
const eW=4*4+3*GAP;
const eGroups=[cagAL,cagIF,cagCR,cagCt].flatMap((m,g)=>heatGroups.map((n,c)=>({n,x:g*(4+GAP)+c+.5})));
place({x:{domain:[0,eW],axis:null},y:{domain:[7,0],axis:null},color:cagColor,marks:[
  Plot.rect(eCells,{x1:"x",x2:d=>d.x+1,y1:"row",y2:d=>d.row+1,fill:"v",stroke:"#222",strokeWidth:1.3}),
  Plot.frame({stroke:"#000",strokeWidth:3}),
  Plot.text(eGroups,{x:"x",y:()=>0,text:"n",rotate:-45,textAnchor:"start",dy:-8,dx:0,fontSize:18,fontStyle:"italic",fill:"#111"}),
  Plot.text(cagNames,{x:()=>0,y:(d,i)=>i+.5,text:d=>d,dx:-44,fontSize:23.5,fill:"#111"})
]},1157,1450,1897,1784,2);
const barE=d3.range(11.33,22.4,.1);
place({x:{domain:[11.33,22.4],axis:null},y:{domain:[0,1],axis:null},color:cagColor,marks:[
  Plot.rect(barE,{x1:d=>d,x2:d=>d+.13,y1:()=>0,y2:()=>1,fill:d=>d}),
  Plot.ruleX([12,14,16,18,20,22],{y1:0,y2:.28,stroke:"#000",strokeWidth:1.5}),
  Plot.ruleX([12,14,16,18,20,22],{y1:.72,y2:1,stroke:"#000",strokeWidth:1.5}),
  Plot.frame({stroke:"#000",strokeWidth:3}),
  Plot.axisX({ticks:[12,14,16,18,20,22],tickSize:0,tickPadding:9,fontSize:23.5,fill:"#111",label:null})
]},1540,1804,1707,1828,2);

// ---------- ANNOTATIONS ----------
const lab=(t,x,y,fs,o={})=>Plot.text([t],{x:()=>x,y:()=>y,text:d=>d,fontSize:fs,textAnchor:"start",fill:"#111",fontFamily:FONT,...o});
const mid={textAnchor:"middle"};
const headerRules=[[124,480,1186],[504,859,1186],[877,1232,1186],[1253,1574,1186],[1164,1319,1392],[1354,1507,1392],[1547,1699,1392],[1735,1887,1392]];
const marks=[
  Plot.ruleY(headerRules,{x1:d=>d[0],x2:d=>d[1],y:d=>d[2],stroke:"#000",strokeWidth:3}),
  // letters
  ...[["a",0,22],["b",929,22],["c",0,355],["d",0,1301],["e",1069,1301]].map(([t,x,y])=>lab(t,x,y,48,{fontWeight:"bold",fill:"#000"})),
  // a
  lab("PCoA based on Bray-Curtis distance",155,20,24,{fill:"#222"}),
  lab("PC1 (32.8%)",355,317,28,{...mid,fill:"#777"}),
  lab("PC2 (13.3%)",66,145,26,{...mid,rotate:-90,fill:"#777"}),
  lab("NC+AL",581,53,18,{fill:"#222"}),lab("NC+CR",655,53,18,{fill:"#222"}),
  lab("NC+IF",581,171,18,{fill:"#222"}),lab("NC+IF",654,171,18,{fill:"#222"}),lab("Ctrl",710,166,9,{fill:"#222"}),
  // b
  lab("sPLSDA",1331,21,23,{...mid,fill:"#222"}),
  lab("Component 1 (17%)",1353,320,28.5,{...mid,fill:"#666"}),
  lab("Component 2  (11%)",1024,138,25.5,{...mid,rotate:-90,fill:"#666"}),
  lab("AL, IF Day 7 of  Week 9, 10",1586,66,18),lab("(Cluster AL)",1586,85,18),
  lab("CR, IF",1586,115,18),lab("Ctrl",1638,110,10),lab("Day 7 of  Week 9, 10",1660,115,18),lab("(Cluster CR)",1586,134,18),
  lab("IF Day 2 of Week 10, IF",1586,165,18),lab("Ctrl",1781,160,10),lab("Day 2 of Week 10",1800,165,18),lab("(Cluster Fasting)",1586,183,18),
  lab("IF Day 3 of Week 10, IF",1586,214,18),lab("Ctrl",1781,209,10),lab("Day 3 of Week 10",1800,214,18),lab("(Cluster Refeeding)",1586,232,18),
  Plot.dot(["a"],{x:()=>1565,y:()=>66,r:5,stroke:C_PUR,strokeWidth:1.6}),
  Plot.dot(["c"],{x:()=>1565,y:()=>118,r:5.5,symbol:"triangle",stroke:C_GRN,strokeWidth:1.8}),
  Plot.dot(["f"],{x:()=>1565,y:()=>167,r:7,symbol:"plus",stroke:C_ORG,strokeWidth:1.8}),
  Plot.dot(["r"],{x:()=>1565,y:()=>215,r:7,symbol:"times",stroke:C_TEAL,strokeWidth:1.6}),
  // c
  lab("OTU",1573,385,16,{fill:"#333"}),lab("Taxonomy",1640,384,16,{fill:"#333"}),
  ...[158,254,349,438].map((x,i)=>lab(heatGroups[i],x,1159,24,mid)),
  ...[545,633,719,811].map((x,i)=>lab(heatGroups[i],x,1159,24,mid)),
  ...[918,1011,1109,1194].map((x,i)=>lab(heatGroups[i],x,1159,24,mid)),
  ...[1290,1373,1459,1540].map((x,i)=>lab(heatGroups[i],x,1159,23,mid)),
  lab("NC+AL",303,1210,24,mid),lab("NC+IF",670,1210,24,mid),lab("NC+CR",1059,1210,24,mid),
  lab("NC+IF",1380,1210,24),lab("Ctrl",1449,1205,12),
  lab("Relative abundance (log",1577,1213,20,{fill:"#333"}),lab("2",1782,1220,12,{fill:"#333"}),lab("transformed)",1795,1213,20,{fill:"#333"}),
  // d CAG labels
  ...[["CAG6",120,1340],["CAG5",36,1568],["CAG7",102,1814],["CAG2",902,1423],["CAG1",1002,1544],["CAG3",985,1665],["CAG4",976,1822]].map(([t,x,y])=>lab(t,x,y,22.5,mid)),
  // e
  lab("NC+AL",1243,1367,23.5,mid),lab("NC+IF",1425,1368,23.5,mid),lab("NC+CR",1621,1369,23.5,mid),
  lab("NC+IF",1758,1366,23.5),lab("Ctrl",1828,1358,14),
  lab("Relative abundance (log",1499,1880,23.5),lab("2",1738,1887,15),lab("transformed)",1753,1880,23.5)
];
place({x:{domain:[0,1946],axis:null},y:{domain:[1950,0],axis:null},marks},0,0,1946,1950,0);
</script></body></html>
